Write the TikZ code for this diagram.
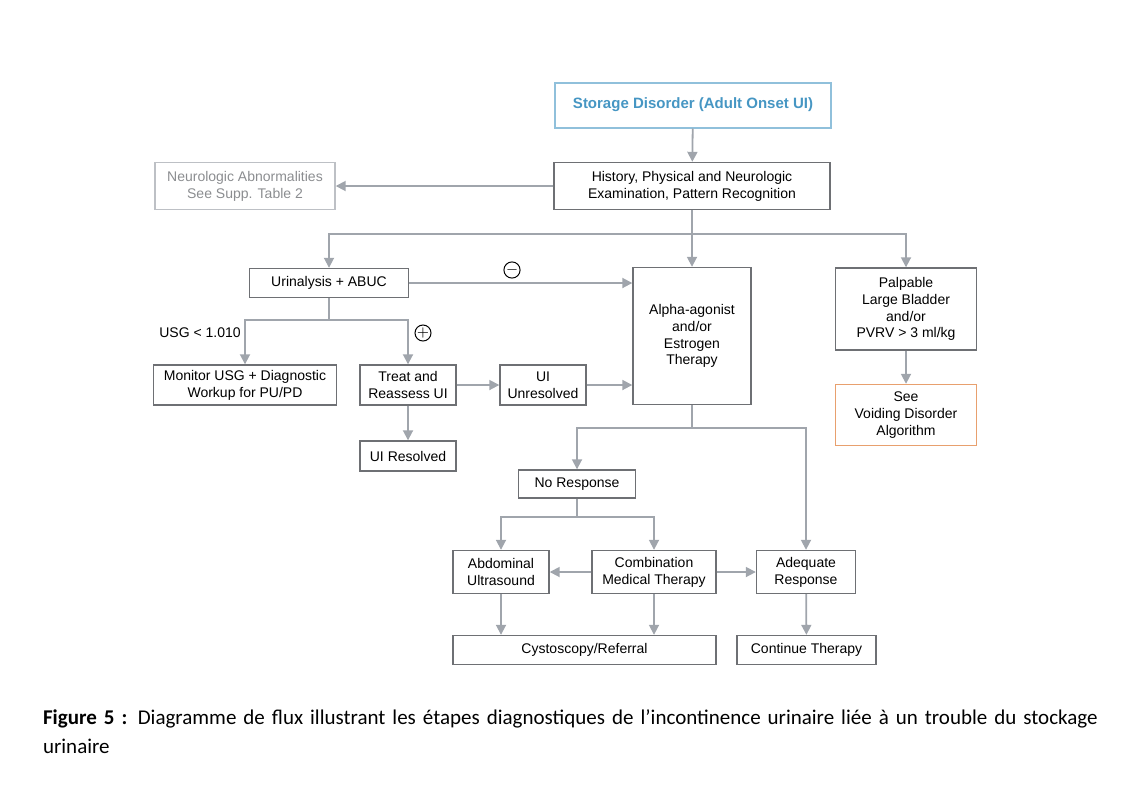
\documentclass[tikz,border=0pt]{standalone}
\usepackage{fontspec}
\setmainfont{Liberation Sans}
\newfontfamily\capfont{Carlito}
\usetikzlibrary{arrows.meta}
\definecolor{linegray}{RGB}{160,165,172}
\definecolor{boxgray}{RGB}{110,112,116}
\definecolor{titleblue}{RGB}{70,150,195}
\definecolor{voidorange}{RGB}{232,160,110}
\begin{document}
\begin{tikzpicture}[x=0.5pt,y=-0.5pt,>={Triangle[length=5pt,width=5pt]}]

  \tikzstyle{box}=[rectangle,draw=boxgray,line width=0.7pt,align=center,inner sep=1pt,font=\fontsize{7}{8.4}\selectfont]
  \tikzstyle{link}=[draw=linegray,line width=0.9pt]
  \tikzstyle{sign}=[circle,draw=black,line width=0.5pt,inner sep=0pt,minimum size=7.5pt,font=\fontsize{7}{7}\selectfont]

    \useasboundingbox (0,0) rectangle (1144,798);

    \node [box,draw=titleblue!60,line width=1pt,text=titleblue,minimum width=138pt,minimum height=22.5pt,font=\fontsize{7.5}{9}\selectfont\bfseries] (storage) at (693,105) {Storage Disorder (Adult Onset UI)};
    \node [box,minimum width=138pt,minimum height=23.5pt] (history) at (692,186) {History, Physical and Neurologic\\Examination, Pattern Recognition};
    \node [box,draw=linegray!70,text=boxgray!80,minimum width=90pt,minimum height=23.5pt] (neuro) at (245,186) {Neurologic Abnormalities\\See Supp. Table 2};
    \node [box,minimum width=79.5pt,minimum height=14.5pt] (urin) at (329,283) {Urinalysis + ABUC};
    \node [box,minimum width=59pt,minimum height=68.5pt] (alpha) at (692,336) {Alpha-agonist\\and/or\\Estrogen\\Therapy};
    \node [box,minimum width=70.5pt,minimum height=41pt] (palp) at (906,309) {Palpable\\Large Bladder\\and/or\\PVRV > 3 ml/kg};
    \node [box,draw=voidorange,minimum width=70.5pt,minimum height=30.5pt] (void) at (906,415) {See\\Voiding Disorder\\Algorithm};
    \node [box,minimum width=91.5pt,minimum height=20pt] (monitor) at (245,385) {Monitor USG + Diagnostic\\Workup for PU/PD};
    \node [box,minimum width=48pt,minimum height=20pt] (treat) at (408,385) {Treat and\\Reassess UI};
    \node [box,minimum width=43pt,minimum height=20pt] (unres) at (543,385) {UI\\Unresolved};
    \node [box,minimum width=48pt,minimum height=15pt] (resolved) at (408,456) {UI Resolved};
    \node [box,minimum width=58.5pt,minimum height=14pt] (nores) at (577,484) {No Response};
    \node [box,minimum width=48pt,minimum height=21.5pt] (abdo) at (501,572) {Abdominal\\Ultrasound};
    \node [box,minimum width=62pt,minimum height=21.5pt] (combo) at (654,572) {Combination\\Medical Therapy};
    \node [box,minimum width=49.5pt,minimum height=21.5pt] (adeq) at (806,572) {Adequate\\Response};
    \node [box,minimum width=131.5pt,minimum height=14.5pt] (cysto) at (584.5,650) {Cystoscopy/Referral};
    \node [box,minimum width=69.5pt,minimum height=14.5pt] (cont) at (806.5,650) {Continue Therapy};

    \node [sign] (minus) at (512,270) {$-$};
    \node [sign] (plus) at (423,333) {$+$};
    \node [font=\fontsize{7}{8}\selectfont] (usg) at (200,333) {USG < 1.010};

    % connectors
    \draw [link,->] (storage) -- (history);
    \draw [link,->] (history) -- (neuro);
    \draw [link] (history) -- (692,234) coordinate (split1);
    \draw [link,->] (split1) -| (urin);
    \draw [link,->] (split1) -- (alpha);
    \draw [link,->] (split1) -| (palp);
    \draw [link,->] (urin) -- (urin -| alpha.west);
    \draw [link] (urin) -- (329,320) coordinate (split2);
    \draw [link,->] (split2) -| (monitor);
    \draw [link,->] (split2) -| (treat);
    \draw [link,->] (treat) -- (unres);
    \draw [link,->] (unres) -- (unres -| alpha.west);
    \draw [link,->] (treat) -- (resolved);
    \draw [link,->] (palp) -- (void);
    \draw [link] (alpha) -- (692,428) coordinate (split3);
    \draw [link,->] (split3) -| (nores);
    \draw [link,->] (split3) -| (adeq);
    \draw [link] (nores) -- (577,517) coordinate (split4);
    \draw [link,->] (split4) -| (abdo);
    \draw [link,->] (split4) -| (combo);
    \draw [link,->] (combo) -- (abdo);
    \draw [link,->] (combo) -- (adeq);
    \draw [link,->] (abdo) -- (abdo |- cysto.north);
    \draw [link,->] (combo) -- (combo |- cysto.north);
    \draw [link,->] (adeq) -- (cont);

    \node [anchor=north west,align=left,text width=540pt,font=\capfont\fontsize{10.5}{14.5}\selectfont] (caption) at (36,703) {\textbf{Figure 5 :} Diagramme de flux illustrant les étapes diagnostiques de l’incontinence urinaire liée à un trouble du stockage urinaire};

\end{tikzpicture}
\end{document}
